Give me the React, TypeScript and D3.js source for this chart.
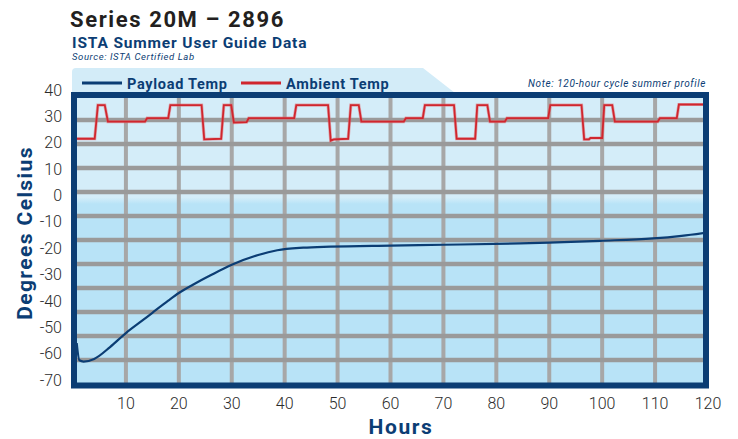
import React from "react";
import * as d3 from "d3";

// chart data
const xTicks = [10, 20, 30, 40, 50, 60, 70, 80, 90, 100, 110, 120];
const yTicks = [40, 30, 20, 10, 0, -10, -20, -30, -40, -50, -60, -70];

// payload temperature (hours, °C)
const payloadHours = [0.7, 1.2, 2, 4, 7, 10, 13, 15, 18, 20, 23, 26, 30, 35, 38.6, 43.5, 48.6, 60, 70, 84.5, 90, 99.6, 109.6, 115, 120];
const payloadTemps = [-56, -62.5, -63, -62, -57.5, -52.2, -47.6, -44.5, -39.9, -37.0, -33.5, -30.3, -26.3, -22.6, -20.8, -19.8, -19.4, -19.0, -18.7, -18.2, -17.9, -17.2, -16.3, -15.3, -14.0];

// ambient temperature (hours, °C) - stepped chamber profile
const ambientHours = [0, 4.1, 4.7, 6.0, 6.6, 13.6, 14.0, 18.0, 18.4, 24.3, 24.8, 28.0, 28.5, 29.9, 30.4, 32.8, 33.2, 41.8, 42.2, 48.2, 48.7, 49.3, 52.0, 52.5, 54.0, 54.5, 62.5, 62.9, 66.1, 66.5, 72.0, 72.5, 76.0, 76.4, 78.3, 78.8, 81.6, 82.0, 89.8, 90.2, 96.1, 96.6, 97.5, 97.8, 100.0, 100.4, 101.9, 102.4, 110.5, 110.9, 114.1, 114.5, 120];
const ambientTemps = [21.5, 21.5, 34.3, 34.3, 28.0, 28.0, 29.3, 29.3, 34.3, 34.3, 21.3, 21.5, 34.3, 34.3, 27.6, 27.8, 29.3, 29.3, 34.3, 34.3, 20.8, 21.3, 21.5, 34.3, 34.3, 28.0, 28.0, 29.3, 29.3, 34.3, 34.3, 21.5, 21.5, 34.3, 34.3, 28.0, 28.0, 29.3, 29.3, 34.3, 34.3, 21.3, 21.3, 21.8, 21.8, 34.3, 34.3, 28.0, 28.0, 29.3, 29.3, 34.5, 34.5];

const NAVY = "#0b3d74";
const RED = "#d0262e";

export default function App() {
  const frame = { left: 74, top: 95, right: 706, bottom: 385.5 };
  const inner = { left: 77, top: 98, right: 703, bottom: 383 };

  const x = d3.scaleLinear().domain([0, 120]).range([73, 708]);
  const y = d3.scaleLinear().domain([-70, 40]).range([380, 90]);
  // grid rows are drawn in 12 even bands of the plot box
  const gridY = d3.scaleLinear().domain([0, 12]).range([96, 384]);

  const payload = payloadHours.map((h, i) => [h, payloadTemps[i]] as [number, number]);
  const ambient = ambientHours.map((h, i) => [h, ambientTemps[i]] as [number, number]);

  const smooth = d3
    .line<[number, number]>()
    .x((d) => x(d[0]))
    .y((d) => y(d[1]))
    .curve(d3.curveMonotoneX);
  const stepped = d3
    .line<[number, number]>()
    .x((d) => x(d[0]))
    .y((d) => y(d[1]));

  const splitY = 198;

  return (
    <svg
      width={738}
      height={439}
      style={{ position: "absolute", left: 0, top: 0, fontFamily: "Roboto, 'DejaVu Sans', sans-serif" }}
    >
      <defs>
        <clipPath id="plot">
          <rect x={inner.left} y={inner.top} width={inner.right - inner.left} height={inner.bottom - inner.top} />
        </clipPath>
        <linearGradient id="shine" x1="0" y1="0" x2="0" y2="1">
          <stop offset="0" stopColor="#d2ecf9" />
          <stop offset="1" stopColor="#b8e3f7" />
        </linearGradient>
      </defs>

      {/* titles */}
      <text x={70} y={27} fontSize={22} fontWeight={700} fill="#231f20" letterSpacing={1.6}>
        Series 20M – 2896
      </text>
      <text x={72} y={48} fontSize={15.5} fontWeight={700} fill={NAVY} letterSpacing={0.85}>
        ISTA Summer User Guide Data
      </text>
      <text x={72} y={60} fontSize={9.5} fontStyle="italic" fill={NAVY} letterSpacing={0.6}>
        Source: ISTA Certified Lab
      </text>

      {/* legend tab */}
      <path d="M72,94 L72,72 Q72,68 76,68 L423,68 L455,93 Z" fill="#d3ecf8" />
      <line x1={82} x2={122} y1={83} y2={83} stroke={NAVY} strokeWidth={3} />
      <text x={127} y={89} fontSize={14.5} fontWeight={700} fill={NAVY} letterSpacing={0.7}>
        Payload Temp
      </text>
      <line x1={241} x2={281} y1={83} y2={83} stroke={RED} strokeWidth={3} />
      <text x={286} y={89} fontSize={14.5} fontWeight={700} fill={NAVY} letterSpacing={0.7}>
        Ambient Temp
      </text>
      <text x={706} y={87} fontSize={10} fontStyle="italic" textAnchor="end" fill={NAVY} letterSpacing={0.6}>
        Note: 120-hour cycle summer profile
      </text>

      {/* plot background */}
      <rect x={inner.left} y={inner.top} width={inner.right - inner.left} height={splitY - inner.top} fill="#d4edf9" />
      <rect x={inner.left} y={splitY} width={inner.right - inner.left} height={6} fill="url(#shine)" />
      <rect x={inner.left} y={splitY + 6} width={inner.right - inner.left} height={inner.bottom - splitY - 6} fill="#b8e3f7" />

      {/* grid */}
      <g clipPath="url(#plot)">
        {xTicks.slice(0, -1).map((t) => (
          <line key={t} x1={x(t)} x2={x(t)} y1={inner.top} y2={inner.bottom} stroke="#a7a7a7" strokeWidth={4} />
        ))}
        {d3.range(1, 12).map((k) => (
          <line key={k} x1={inner.left} x2={inner.right} y1={gridY(k)} y2={gridY(k)} stroke="#9a9a9a" strokeWidth={4.5} />
        ))}
      </g>

      {/* series */}
      <g clipPath="url(#plot)" fill="none">
        <path d={stepped(ambient) ?? ""} stroke="#e26a70" strokeOpacity={0.55} strokeWidth={3.2} />
        <path d={stepped(ambient) ?? ""} stroke={RED} strokeWidth={1.8} />
        <path d={smooth(payload) ?? ""} stroke={NAVY} strokeWidth={2.2} />
      </g>

      {/* frame */}
      <rect
        x={frame.left}
        y={frame.top}
        width={frame.right - frame.left}
        height={frame.bottom - frame.top}
        fill="none"
        stroke={NAVY}
        strokeWidth={6}
      />

      {/* axes labels */}
      {yTicks.map((t) => (
        <text key={t} x={62} y={y(t)} dy="0.35em" fontSize={16} textAnchor="end" fill="#2b2b2b" fontWeight={300}>
          {t}
        </text>
      ))}
      {xTicks.map((t) => (
        <text key={t} x={x(t)} y={409} fontSize={16} textAnchor="middle" fill="#2b2b2b" fontWeight={300}>
          {t}
        </text>
      ))}
      <text
        transform="translate(32,233) rotate(-90)"
        textAnchor="middle"
        fontSize={21}
        fontWeight={700}
        fill={NAVY}
        letterSpacing={1.4}
      >
        Degrees Celsius
      </text>
      <text x={401} y={434} textAnchor="middle" fontSize={21} fontWeight={700} fill={NAVY} letterSpacing={1.6}>
        Hours
      </text>
    </svg>
  );
}
